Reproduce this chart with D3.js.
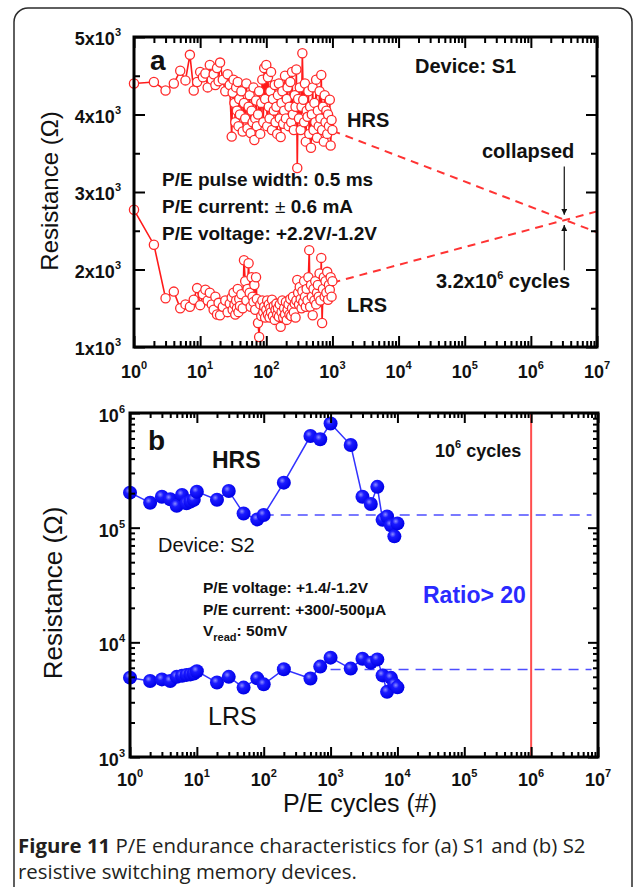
<!DOCTYPE html>
<html>
<head>
<meta charset="utf-8">
<script src="https://cdn.jsdelivr.net/npm/d3@7"></script>
<style>
  html, body { margin: 0; padding: 0; background: #ffffff; }
  svg { display: block; }
</style>
</head>
<body>
<svg id="fig" width="633" height="887"></svg>
<script>
// ---------- Panel (a): device S1, linear resistance vs. log cycles ----------
const cyclesA = [1, 2, 3, 4, 5, 6, 7, 8, 9, 10,
  11, 12, 13, 14, 15, 16, 17, 18, 19, 20,
  22, 24, 26, 28,
  30, 31, 32, 33, 34, 35, 36, 37, 38, 39, 40,
  42, 44, 46, 48, 50, 52, 54, 56, 58, 60, 62, 64, 66, 68, 70, 72,
  75, 78, 81, 84, 87, 90, 93, 96, 100,
  103, 106, 109, 112, 115, 118, 122, 126, 130, 134, 138, 142, 146, 150,
  155, 160, 165, 170, 175, 180, 186, 192, 198, 204, 210,
  217, 224, 231, 238, 245, 253, 261, 269, 277, 285,
  294, 303, 312, 321, 331, 341, 351, 362, 373, 384, 396, 408, 420,
  433, 446, 460, 474, 488, 503, 518, 534, 550, 567, 584,
  602, 620, 639, 658, 678, 698, 719, 741, 763, 786, 810,
  834, 859, 885, 912, 940, 970, 1000];
const hrsA = [4400, 4420, 4310, 4400, 4565, 4440, 4770, 4310, 4420, 4550,
  4480, 4530, 4350, 4640, 4450, 4520, 4380, 4600, 4430, 4670,
  4450, 4300, 4520, 4380,
  3715, 4280, 4450, 4150, 3900, 4350, 4050, 4420, 3850, 4200, 4000,
  4300, 3780, 4150, 3950, 4400, 3820, 4100, 4250, 3760, 4050, 3900, 4350, 3670, 3950, 4180, 3850,
  4000, 4300, 3750, 4150, 4450, 3900, 4600, 4200, 4640,
  3850, 4480, 4100, 3950, 4300, 4550, 3800, 4200, 4050, 4380, 3900, 4100, 3750, 4250,
  4400, 3950, 3710, 4150, 4300, 3880, 4050, 4500, 3950, 4200, 4350,
  3850, 4100, 4420, 3900, 4550, 4000, 3800, 4250, 4100, 4580,
  3310, 4200, 3950, 4350, 3800, 4100, 4790, 4190, 3900, 4400, 3650, 4050, 3970,
  4300, 3750, 4100, 3570, 4000, 4350, 3800, 4150, 3900, 4450, 3700,
  4050, 3850, 4300, 3950, 4510, 3800, 4100, 3650, 4250, 3900, 4050,
  3750, 4000, 3850, 4190, 3600, 3930, 3800];
const lrsA = [2770, 2320, 1630, 1715, 1500, 1550, 1520, 1610, 1760, 1540,
  1680, 1740, 1600, 1700, 1550, 1480, 1650, 1420, 1570, 1410,
  1520, 1600, 1450, 1560,
  1640, 1480, 1700, 1550, 1420, 1600, 1500, 1750, 1450, 1620, 1530,
  1680, 1500, 2120, 1850, 1600, 1750, 2080, 1700, 1520, 1900, 1650, 1580, 1800, 1480, 1900, 1620,
  1310, 1130, 1550, 1400, 1600, 1450, 1520, 1380, 1480,
  1600, 1420, 1550, 1380, 1500, 1450, 1610, 1400, 1530, 1350, 1480, 1560, 1420, 1500,
  1390, 1550, 1260, 1450, 1600, 1380, 1500, 1420, 1580, 1350, 1480,
  1550, 1420, 1620, 1400, 1500, 1650, 1450, 1560, 1380, 1600,
  1865, 1700, 1550, 1775, 1620, 1500, 1720, 1580, 1850, 1650, 1520, 1750, 1600,
  1900, 2250, 1520, 1800, 1650, 1410, 1750, 1600, 1850, 1550, 1700,
  1800, 1650, 1950, 1600, 2150, 1310, 1750, 1900, 1650, 1850, 1700,
  1970, 1610, 1800, 1740, 1900, 1650, 1850];
// extrapolated trends of both states out to 10^7 cycles
const hrsTrendA = [[1e3, 3790], [1e7, 2480]];
const lrsTrendA = [[1e3, 1830], [1e7, 2750]];
// estimated collapse point and its annotation arrows
const collapseCycles = 3.2e6;
const arrowDownA = [3330, 2705];
const arrowUpA = [1990, 2575];
const yTicksA = [1000, 2000, 3000, 4000, 5000];
const yMinorA = [1500, 2500, 3500, 4500];

// ---------- Panel (b): device S2, log resistance vs. log cycles ----------
const cyclesB = [1, 2, 3, 4, 5, 6, 7, 8, 9, 10, 20, 30, 50, 80, 100, 200,
  500, 700, 1000, 2000, 3000, 4000, 5000, 6000, 7000, 8000, 9000, 10000];
const hrsB = [2.02e5, 1.65e5, 1.86e5, 1.77e5, 1.55e5, 1.93e5, 1.63e5, 1.69e5, 1.75e5, 2.06e5,
  1.75e5, 2.09e5, 1.33e5, 1.18e5, 1.29e5, 2.47e5, 6.3e5, 5.9e5, 8.1e5, 5.26e5,
  1.86e5, 1.61e5, 2.27e5, 1.17e5, 1.25e5, 1.05e5, 8.4e4, 1.09e5];
const lrsB = [4.92e3, 4.6e3, 4.75e3, 4.6e3, 5.0e3, 5.1e3, 5.2e3, 5.25e3, 5.35e3, 5.6e3,
  4.46e3, 5.0e3, 4.03e3, 4.85e3, 4.3e3, 5.82e3, 4.83e3, 6.14e3, 7.35e3, 5.9e3,
  7.2e3, 6.65e3, 7.1e3, 5.15e3, 3.7e3, 4.9e3, 4.3e3, 4.05e3];
const hrsLevelB = [[100, 1.29e5], [8e6, 1.29e5]];
const lrsLevelB = [[1000, 5.8e3], [8e6, 5.8e3]];
const targetCyclesB = 1e6;
const yExpB = [3, 4, 5, 6];

const xExp = [0, 1, 2, 3, 4, 5, 6, 7];

// ---------- drawing ----------
const svg = d3.select("#fig");
const FONT = "'Liberation Sans', Arial, Helvetica, sans-serif";

const defs = svg.append("defs");
const grad = defs.append("radialGradient").attr("id", "ball")
  .attr("cx", "38%").attr("cy", "35%").attr("r", "65%");
grad.append("stop").attr("offset", "0%").attr("stop-color", "#8c8cff");
grad.append("stop").attr("offset", "35%").attr("stop-color", "#1a1aff");
grad.append("stop").attr("offset", "100%").attr("stop-color", "#0000e6");

// outer figure frame
svg.append("rect").attr("x", 14).attr("y", 8).attr("width", 618).attr("height", 920)
  .attr("rx", 14).attr("fill", "none").attr("stroke", "#2b2b2b").attr("stroke-width", 1.5);

// text with optional superscript / subscript runs
function rich(g, x, y, parts, o) {
  const t = g.append("text").attr("x", x).attr("y", y)
    .attr("font-family", FONT).attr("font-size", o.size)
    .attr("font-weight", o.weight || "bold")
    .attr("fill", o.color || "#111")
    .attr("text-anchor", o.anchor || "start");
  let shift = 0;
  parts.forEach(p => {
    const s = t.append("tspan").text(p.t);
    let target = 0, fs = null;
    if (p.sup) { target = -(o.supRaise || o.size * 0.5); fs = o.supSize || o.size * 0.58; }
    if (p.sub) { target = (o.subDrop || o.size * 0.3); fs = o.supSize || o.size * 0.65; }
    if (target !== shift) { s.attr("dy", target - shift); shift = target; }
    if (fs) s.attr("font-size", fs);
    if (p.weight) s.attr("font-weight", p.weight);
  });
  return t;
}

function logTicksMinor(lo, hi) {
  const out = [];
  for (let e = lo; e < hi; e++) for (let k = 2; k <= 9; k++) out.push(k * Math.pow(10, e));
  return out;
}

function frameAxes(g, x, y, box, yMajor, yMinor, majLen, minLen) {
  const [x0, x1, y0, y1] = box; // left, right, top, bottom
  const mk = (axis, tx, ty, vals, len) => {
    g.append("g").attr("transform", `translate(${tx},${ty})`)
      .call(axis.tickValues(vals).tickSize(-len).tickSizeOuter(0).tickFormat(""))
      .call(s => s.select(".domain").remove())
      .call(s => s.selectAll("line").attr("stroke", "#000").attr("stroke-width", 2));
  };
  const xMaj = xExp.map(e => Math.pow(10, e));
  const xMin = logTicksMinor(0, 7);
  mk(d3.axisBottom(x), 0, y1, xMaj, majLen);
  mk(d3.axisBottom(x), 0, y1, xMin, minLen);
  mk(d3.axisTop(x), 0, y0, xMaj, majLen);
  mk(d3.axisTop(x), 0, y0, xMin, minLen);
  mk(d3.axisLeft(y), x0, 0, yMajor, majLen);
  mk(d3.axisLeft(y), x0, 0, yMinor, minLen);
  mk(d3.axisRight(y), x1, 0, yMajor, majLen);
  mk(d3.axisRight(y), x1, 0, yMinor, minLen);
  g.append("rect").attr("x", x0).attr("y", y0).attr("width", x1 - x0).attr("height", y1 - y0)
    .attr("fill", "none").attr("stroke", "#000").attr("stroke-width", 3);
}

function xLabels(g, x, baseY) {
  xExp.forEach(e => rich(g, x(Math.pow(10, e)), baseY, [{ t: "10" }, { t: String(e), sup: true }],
    { size: 18, anchor: "middle", supSize: 11, supRaise: 9 }));
}

// ================= Panel (a) =================
const ga = svg.append("g");
const boxA = [134, 597, 37, 347];
const xA = d3.scaleLog().domain([1, 1e7]).range([boxA[0], boxA[1]]);
const yA = d3.scaleLinear().domain([1000, 5000]).range([boxA[3], boxA[2]]);

const lineA = d3.line().x(d => xA(d[0])).y(d => yA(d[1]));
const RED = "#ff1a1a";

// dashed extrapolation
[hrsTrendA, lrsTrendA].forEach(tr => {
  ga.append("path").attr("d", lineA(tr)).attr("fill", "none")
    .attr("stroke", "#ff3333").attr("stroke-width", 2).attr("stroke-dasharray", "8,6");
});

[hrsA, lrsA].forEach(vals => {
  const pts = cyclesA.map((c, i) => [c, vals[i]]);
  ga.append("path").attr("d", lineA(pts)).attr("fill", "none")
    .attr("stroke", RED).attr("stroke-width", 1.6);
  ga.append("g").selectAll("circle").data(pts).join("circle")
    .attr("cx", d => xA(d[0])).attr("cy", d => yA(d[1])).attr("r", 4.6)
    .attr("fill", "#fff").attr("stroke", "#ff2a2a").attr("stroke-width", 1.3);
});

frameAxes(ga, xA, yA, boxA, yTicksA, yMinorA, 11, 6);

yTicksA.forEach(v => rich(ga, 121, yA(v) + 8, [{ t: (v / 1000) + "x10" }, { t: "3", sup: true }],
  { size: 18, anchor: "end", supSize: 11, supRaise: 9 }));
xLabels(ga, xA, 378);

// collapse annotation arrows
defs.append("marker").attr("id", "arrowhead").attr("viewBox", "0 0 10 10")
  .attr("refX", 10).attr("refY", 5).attr("markerWidth", 5).attr("markerHeight", 5)
  .attr("orient", "auto").append("path").attr("d", "M0,0L10,5L0,10Z").attr("fill", "#111");
[arrowDownA, arrowUpA].forEach(a => {
  ga.append("line").attr("x1", xA(collapseCycles)).attr("x2", xA(collapseCycles))
    .attr("y1", yA(a[0])).attr("y2", yA(a[1]))
    .attr("stroke", "#111").attr("stroke-width", 1.2).attr("marker-end", "url(#arrowhead)");
});

rich(ga, 150, 70, [{ t: "a" }], { size: 28 });
rich(ga, 415, 73, [{ t: "Device: S1" }], { size: 20 });
rich(ga, 347, 127, [{ t: "HRS" }], { size: 20 });
rich(ga, 347, 312, [{ t: "LRS" }], { size: 20 });
rich(ga, 482, 158, [{ t: "collapsed" }], { size: 20 });
rich(ga, 436, 288, [{ t: "3.2x10" }, { t: "6", sup: true }, { t: " cycles" }],
  { size: 20, supSize: 11, supRaise: 9 });
rich(ga, 162, 186, [{ t: "P/E pulse width: 0.5 ms" }], { size: 19 });
rich(ga, 162, 213, [{ t: "P/E current: " }, { t: "\u00b1", weight: "normal" }, { t: " 0.6 mA" }], { size: 19 });
rich(ga, 162, 240, [{ t: "P/E voltage: +2.2V/-1.2V" }], { size: 19 });

ga.append("text").attr("transform", "translate(58,191) rotate(-90)")
  .attr("text-anchor", "middle").attr("font-family", FONT).attr("font-size", 24)
  .attr("fill", "#111").text("Resistance (\u03a9)");

// ================= Panel (b) =================
const gb = svg.append("g");
const boxB = [130, 598, 413, 757];
const xB = d3.scaleLog().domain([1, 1e7]).range([boxB[0], boxB[1]]);
const yB = d3.scaleLog().domain([1e3, 1e6]).range([boxB[3], boxB[2]]);
const lineB = d3.line().x(d => xB(d[0])).y(d => yB(d[1]));
const BLUE = "#3333ff";

[hrsLevelB, lrsLevelB].forEach(l => {
  gb.append("path").attr("d", lineB(l)).attr("fill", "none")
    .attr("stroke", "#4d4dff").attr("stroke-width", 1.6).attr("stroke-dasharray", "10,7");
});

gb.append("line").attr("x1", xB(targetCyclesB)).attr("x2", xB(targetCyclesB))
  .attr("y1", yB(1e6)).attr("y2", yB(1e3)).attr("stroke", "#ff4d4d").attr("stroke-width", 2);

[hrsB, lrsB].forEach(vals => {
  const pts = cyclesB.map((c, i) => [c, vals[i]]);
  gb.append("path").attr("d", lineB(pts)).attr("fill", "none")
    .attr("stroke", BLUE).attr("stroke-width", 1.5);
  gb.append("g").selectAll("circle").data(pts).join("circle")
    .attr("cx", d => xB(d[0])).attr("cy", d => yB(d[1])).attr("r", 7)
    .attr("fill", "url(#ball)");
});

const yMinorB = logTicksMinor(3, 6);
frameAxes(gb, xB, yB, boxB, yExpB.map(e => Math.pow(10, e)), yMinorB, 10, 5);

yExpB.forEach(e => rich(gb, 125, yB(Math.pow(10, e)) + 9, [{ t: "10" }, { t: String(e), sup: true }],
  { size: 18, anchor: "end", supSize: 11, supRaise: 9 }));
xLabels(gb, xB, 786);

rich(gb, 148, 450, [{ t: "b" }], { size: 28 });
rich(gb, 212, 468, [{ t: "HRS" }], { size: 23 });
rich(gb, 208, 725, [{ t: "LRS" }], { size: 25, weight: "normal" });
rich(gb, 158, 552, [{ t: "Device: S2" }], { size: 20, weight: "normal" });
rich(gb, 203, 593, [{ t: "P/E voltage: +1.4/-1.2V" }], { size: 15.5 });
rich(gb, 203, 615, [{ t: "P/E current: +300/-500\u03bcA" }], { size: 15.5 });
rich(gb, 203, 636, [{ t: "V" }, { t: "read", sub: true }, { t: ": 50mV" }],
  { size: 15.5, supSize: 11, subDrop: 5 });
rich(gb, 423, 603, [{ t: "Ratio> 20" }], { size: 23, color: "#2a2aff" });
rich(gb, 435, 457, [{ t: "10" }, { t: "6", sup: true }, { t: " cycles" }],
  { size: 18, supSize: 11, supRaise: 9 });

gb.append("text").attr("transform", "translate(62,593) rotate(-90)")
  .attr("text-anchor", "middle").attr("font-family", FONT).attr("font-size", 26)
  .attr("fill", "#111").text("Resistance (\u03a9)");
gb.append("text").attr("x", 360).attr("y", 812).attr("text-anchor", "middle")
  .attr("font-family", FONT).attr("font-size", 25).attr("fill", "#111").text("P/E cycles (#)");

// ---------- caption ----------
const cap = svg.append("g").attr("font-family", "'Open Sans', 'Noto Sans', sans-serif")
  .attr("font-size", 17).attr("fill", "#231f20");
const c1 = cap.append("text").attr("x", 18).attr("y", 853)
  .text("P/E endurance characteristics for (a) S1 and (b) S2");
const fig = cap.append("text").attr("x", 18).attr("y", 853).attr("font-weight", "bold")
  .text("Figure 11");
const c2 = cap.append("text").attr("x", 18).attr("y", 879).text("resistive switching memory devices.");
// size the caption so its first line spans the column width
function layoutCaption(size) {
  cap.attr("font-size", size);
  const lead = fig.node().getComputedTextLength() + size * 0.26;
  c1.attr("x", 18 + lead);
  return lead + c1.node().getComputedTextLength();
}
const w17 = layoutCaption(17);
layoutCaption(17 * 568 / w17);
</script>
</body>
</html>
